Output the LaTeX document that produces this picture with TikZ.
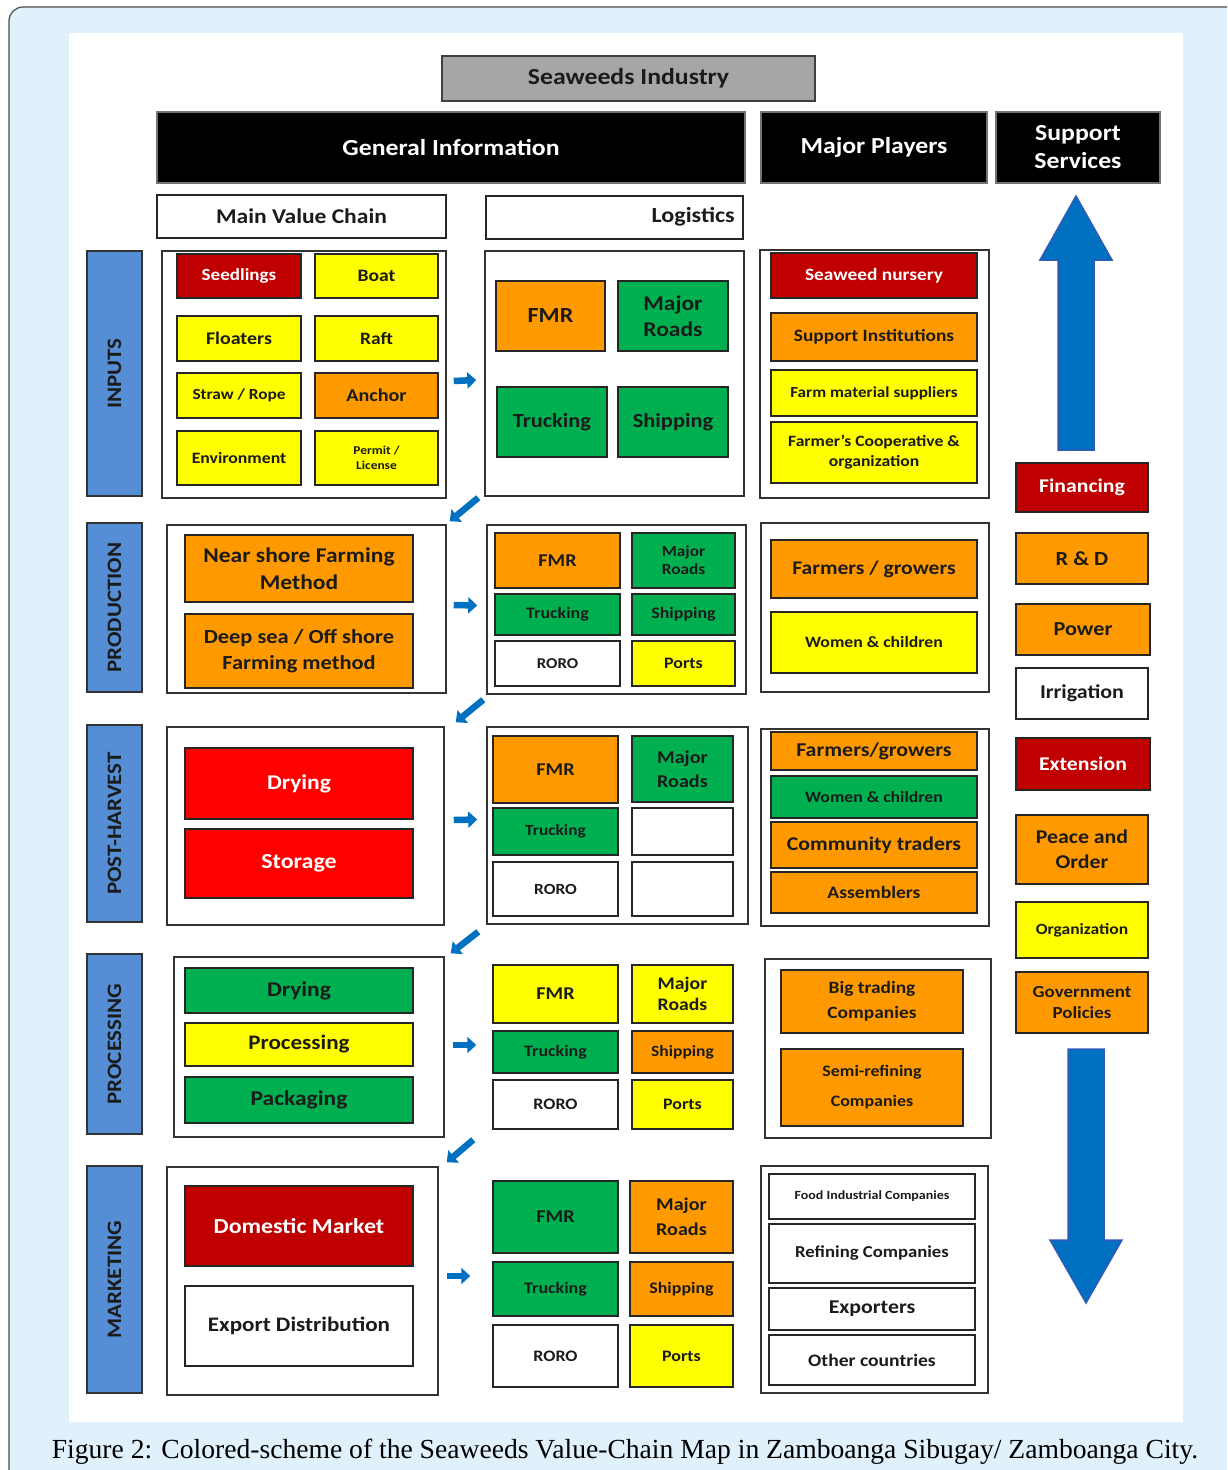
\documentclass[tikz,border=0pt]{standalone}
\usepackage{fontspec}
\setmainfont{Carlito}[FakeStretch=1.12]
\newfontfamily\capfont{Liberation Serif}
\usetikzlibrary{calc,arrows.meta}
\definecolor{bgblue}{HTML}{E0F1FB}
\definecolor{hgray}{HTML}{A6A6A6}
\definecolor{dred}{HTML}{C00000}
\definecolor{bred}{HTML}{FF0000}
\definecolor{orng}{HTML}{FF9900}
\definecolor{yell}{HTML}{FFFF00}
\definecolor{grn}{HTML}{00B050}
\definecolor{stblue}{HTML}{558ED5}
\definecolor{arrblue}{HTML}{0070C0}
\definecolor{arredge}{HTML}{2F5BB7}
\definecolor{txt}{HTML}{1B1B1B}
\newcommand\fs[2]{\fontsize{#1}{#2}\selectfont}
% box from corner (x1,y1) to (x2,y2): \B{style}{x1}{y1}{x2}{y2}{name}{text}
\newcommand\B[7]{\node[#1, minimum width=#4-#2, minimum height=#5-#3] (#6) at ({(#2+#4)/2},{(#3+#5)/2}) {#7};}
\tikzset{
  cell/.style={draw=black!85, line width=1.5, inner sep=0pt, align=center, text=txt, font=\bfseries\fs{17}{20}},
  hdr/.style={cell, fill=black, draw=black!55, text=white, font=\bfseries\fs{23}{27}},
  cont/.style={draw=black!80, line width=1.5, fill=white, inner sep=0pt},
  stage/.style={draw=black!80, line width=1.5, fill=stblue, inner sep=0pt, text=txt, font=\bfseries\fs{20.5}{23}},
  og/.style={cell, fill=orng},
  yl/.style={cell, fill=yell},
  gr/.style={cell, fill=grn},
  rd/.style={cell, fill=dred, text=white},
  br/.style={cell, fill=bred, text=white},
  wh/.style={cell, fill=white},
  rarr/.style={line width=6.5, draw=arrblue, -{Triangle[length=9pt,width=16pt]}},
  bigarr/.style={fill=arrblue, draw=arredge, line width=1.5},
}
\begin{document}
\begin{tikzpicture}[x=1pt,y=-1pt]
\useasboundingbox (0,0) rectangle (1227,1470);
\clip (0,0) rectangle (1227,1470);
\fill[white] (0,0) rectangle (1227,1470);
\draw[fill=bgblue, draw=black!70, line width=1.2, rounded corners=14] (9,7) rectangle (1262,1500);
\fill[white] (69,33) rectangle (1183,1422);

% headers
\B{cell, fill=hgray, draw=black!75, font=\bfseries\fs{23}{26}}{442}{56}{815}{101}{ind}{Seaweeds Industry}
\B{hdr}{157}{112}{745}{183}{gen}{General Information}
\B{hdr}{761}{112}{987}{183}{mp}{Major Players}
\B{hdr, font=\bfseries\fs{23}{28}}{996}{112}{1160}{183}{ss}{Support\\Services}
\B{wh, font=\bfseries\fs{21}{24}}{157}{195}{446}{238}{mvc}{Main Value Chain}
\node[wh, anchor=north west, minimum height=43, text width=241, inner xsep=8pt, align=right, font=\bfseries\fs{21.5}{24}] (logi) at (485,195) {Logistics};

% stage labels
\B{stage}{87}{251}{142}{496}{s1}{\rotatebox{90}{INPUTS}}
\B{stage}{87}{523}{142}{692}{s2}{\rotatebox{90}{PRODUCTION}}
\B{stage}{87}{725}{142}{922}{s3}{\rotatebox{90}{POST-HARVEST}}
\B{stage}{87}{954}{142}{1134}{s4}{\rotatebox{90}{PROCESSING}}
\B{stage}{87}{1166}{142}{1393}{s5}{\rotatebox{90}{MARKETING}}

% ===== Row 1: inputs
\B{cont}{162}{251}{446}{498}{in1}{}
\B{rd}{177}{254}{301}{298}{seed}{Seedlings}
\B{yl, font=\bfseries\fs{17.5}{20}}{315}{254}{438}{298}{boat}{Boat}
\B{yl, font=\bfseries\fs{17.8}{20}}{177}{316}{301}{361}{float}{Floaters}
\B{yl, font=\bfseries\fs{17.4}{20}}{315}{316}{438}{361}{raft}{Raft}
\B{yl, font=\bfseries\fs{15.4}{18}}{177}{373}{301}{418}{straw}{Straw / Rope}
\B{og, font=\bfseries\fs{18}{20}}{315}{373}{438}{418}{anch}{Anchor}
\B{yl, font=\bfseries\fs{15.8}{18}}{177}{431}{301}{485}{env}{Environment}
\B{yl, font=\bfseries\fs{12}{15}}{315}{431}{438}{485}{perm}{Permit /\\License}

\B{cont}{485}{251}{744}{496}{lg1}{}
\B{og, font=\bfseries\fs{21.5}{24}}{496}{281}{605}{351}{fmr1}{FMR}
\B{gr, font=\bfseries\fs{21}{26}}{618}{281}{728}{351}{mr1}{Major\\Roads}
\B{gr, font=\bfseries\fs{20}{24}}{497}{387}{607}{457}{tr1}{Trucking}
\B{gr, font=\bfseries\fs{20}{24}}{618}{387}{728}{457}{sh1}{Shipping}

\B{cont}{760}{250}{989}{498}{mp1}{}
\B{rd, font=\bfseries\fs{17.3}{20}}{771}{253}{977}{298}{nurs}{Seaweed nursery}
\B{og, font=\bfseries\fs{17.3}{20}}{771}{313}{977}{361}{supi}{Support Institutions}
\B{yl, font=\bfseries\fs{15.3}{18}}{771}{370}{977}{416}{farm}{Farm material suppliers}
\B{yl, font=\bfseries\fs{15.7}{20}}{771}{422}{977}{483}{coop}{Farmer's Cooperative \&\\organization}

% ===== Row 2: production
\B{cont}{167}{525}{446}{693}{in2}{}
\B{og, font=\bfseries\fs{21}{27}}{185}{535}{413}{602}{near}{Near shore Farming\\Method}
\B{og, font=\bfseries\fs{20}{26}}{185}{614}{413}{688}{deep}{Deep sea / Off shore\\Farming method}

\B{cont}{487}{525}{746}{694}{lg2}{}
\B{og, font=\bfseries\fs{18}{20}}{495}{533}{620}{588}{fmr2}{FMR}
\B{gr, font=\bfseries\fs{15.4}{18}}{632}{533}{735}{588}{mr2}{Major\\Roads}
\B{gr, font=\bfseries\fs{16}{18}}{495}{594}{620}{635}{tr2}{Trucking}
\B{gr, font=\bfseries\fs{16}{18}}{632}{594}{735}{635}{sh2}{Shipping}
\B{wh, font=\bfseries\fs{15}{18}}{495}{641}{620}{686}{ro2}{RORO}
\B{yl, font=\bfseries\fs{16}{18}}{632}{641}{735}{686}{po2}{Ports}

\B{cont}{761}{523}{989}{692}{mp2}{}
\B{og, font=\bfseries\fs{19.3}{22}}{771}{540}{977}{598}{fg2}{Farmers / growers}
\B{yl, font=\bfseries\fs{15.8}{18}}{771}{612}{977}{673}{wc2}{Women \& children}

% ===== Row 3: post-harvest
\B{cont}{167}{727}{444}{925}{in3}{}
\B{br, font=\bfseries\fs{21}{24}}{185}{748}{413}{819}{dry3}{Drying}
\B{br, font=\bfseries\fs{21.4}{24}}{185}{829}{413}{898}{sto3}{Storage}

\B{cont}{487}{727}{748}{924}{lg3}{}
\B{og, font=\bfseries\fs{18}{20}}{493}{736}{618}{803}{fmr3}{FMR}
\B{gr, font=\bfseries\fs{18}{24}}{632}{736}{733}{802}{mr3}{Major\\Roads}
\B{gr, font=\bfseries\fs{15.5}{18}}{493}{808}{618}{855}{tr3}{Trucking}
\B{wh}{632}{808}{733}{855}{e31}{}
\B{wh, font=\bfseries\fs{15.5}{18}}{493}{862}{618}{916}{ro3}{RORO}
\B{wh}{632}{862}{733}{916}{e32}{}

\B{cont}{761}{729}{989}{926}{mp3}{}
\B{og, font=\bfseries\fs{19.6}{22}}{771}{732}{977}{770}{fg3}{Farmers/growers}
\B{gr, font=\bfseries\fs{15.8}{18}}{771}{776}{977}{818}{wc3}{Women \& children}
\B{og, font=\bfseries\fs{19.4}{22}}{771}{822}{977}{868}{ct3}{Community traders}
\B{og, font=\bfseries\fs{17.5}{20}}{771}{872}{977}{913}{as3}{Assemblers}

% ===== Row 4: processing
\B{cont}{174}{957}{444}{1137}{in4}{}
\B{gr, font=\bfseries\fs{21}{24}}{185}{968}{413}{1013}{dry4}{Drying}
\B{yl, font=\bfseries\fs{20.6}{24}}{185}{1023}{413}{1066}{proc4}{Processing}
\B{gr, font=\bfseries\fs{21}{24}}{185}{1077}{413}{1123}{pack4}{Packaging}

\B{yl, font=\bfseries\fs{18}{20}}{493}{965}{618}{1023}{fmr4}{FMR}
\B{yl, font=\bfseries\fs{17.6}{21}}{632}{965}{733}{1023}{mr4}{Major\\Roads}
\B{gr, font=\bfseries\fs{16}{18}}{493}{1031}{618}{1073}{tr4}{Trucking}
\B{og, font=\bfseries\fs{15.6}{18}}{632}{1031}{733}{1073}{sh4}{Shipping}
\B{wh, font=\bfseries\fs{16}{18}}{493}{1080}{618}{1129}{ro4}{RORO}
\B{yl, font=\bfseries\fs{16}{18}}{632}{1080}{733}{1129}{po4}{Ports}

\B{cont}{765}{959}{991}{1138}{mp4}{}
\B{og, font=\bfseries\fs{17.3}{25}}{781}{970}{963}{1033}{big4}{Big trading\\Companies}
\B{og, font=\bfseries\fs{16}{30}}{781}{1049}{963}{1126}{semi4}{Semi-refining\\Companies}

% ===== Row 5: marketing
\B{cont}{167}{1167}{438}{1395}{in5}{}
\B{rd, font=\bfseries\fs{21.4}{24}}{185}{1186}{413}{1266}{dom5}{Domestic Market}
\B{wh, font=\bfseries\fs{20.6}{24}}{185}{1286}{413}{1366}{exp5}{Export Distribution}

\B{gr, font=\bfseries\fs{18}{20}}{493}{1181}{618}{1253}{fmr5}{FMR}
\B{og, font=\bfseries\fs{18}{25}}{630}{1181}{733}{1253}{mr5}{Major\\Roads}
\B{gr, font=\bfseries\fs{16}{18}}{493}{1262}{618}{1316}{tr5}{Trucking}
\B{og, font=\bfseries\fs{16}{18}}{630}{1262}{733}{1316}{sh5}{Shipping}
\B{wh, font=\bfseries\fs{16}{18}}{493}{1325}{618}{1387}{ro5}{RORO}
\B{yl, font=\bfseries\fs{16}{18}}{630}{1325}{733}{1387}{po5}{Ports}

\B{cont}{761}{1166}{988}{1393}{mp5}{}
\B{wh, font=\bfseries\fs{12.5}{14}}{769}{1174}{975}{1219}{food5}{Food Industrial Companies}
\B{wh, font=\bfseries\fs{16.7}{20}}{769}{1224}{975}{1283}{ref5}{Refining Companies}
\B{wh, font=\bfseries\fs{19.5}{22}}{769}{1288}{975}{1330}{ex5}{Exporters}
\B{wh, font=\bfseries\fs{17.5}{20}}{769}{1335}{975}{1385}{oc5}{Other countries}

% ===== support services
\B{rd, font=\bfseries\fs{19.4}{22}}{1016}{463}{1148}{512}{fin}{Financing}
\B{og, font=\bfseries\fs{20}{22}}{1016}{533}{1148}{584}{rnd}{R \& D}
\B{og, font=\bfseries\fs{19.8}{22}}{1016}{604}{1150}{655}{pow}{Power}
\B{wh, font=\bfseries\fs{19.6}{22}}{1016}{668}{1148}{719}{irr}{Irrigation}
\B{rd, font=\bfseries\fs{19.4}{22}}{1016}{738}{1150}{790}{ext}{Extension}
\B{og, font=\bfseries\fs{19.5}{25}}{1016}{815}{1148}{884}{peace}{Peace and\\Order}
\B{yl, font=\bfseries\fs{15.6}{18}}{1016}{902}{1148}{958}{org}{Organization}
\B{og, font=\bfseries\fs{16.9}{21}}{1016}{972}{1148}{1033}{gov}{Government\\Policies}

% big arrows
\draw[bigarr] (1058,450) -- (1058,260) -- (1040,260) -- (1076,196) -- (1112,260) -- (1094,260) -- (1094,450) -- cycle;
\draw[bigarr] (1068,1049) -- (1068,1240) -- (1050,1240) -- (1086,1303) -- (1122,1240) -- (1104,1240) -- (1104,1049) -- cycle;

% small arrows
\draw[rarr] ($(in1.east)+(7,6.5)$) -- ($(lg1.west)+(-8,6.5)$);
\draw[rarr] ($(in2.east)+(7,-4)$) -- ($(lg2.west)+(-9,-4)$);
\draw[rarr] ($(in3.east)+(9,-6)$) -- ($(lg3.west)+(-9,-6)$);
\draw[rarr] ($(in4.east)+(8,-2)$) -- ($(tr4.west)+(-16,-7)$);
\draw[rarr] ($(in5.east)+(8,-5)$) -- ($(tr5.west)+(-22,-13)$);
\draw[rarr] ($(lg1.south west)+(-6,1)$) -- ($(in2.north east)+(3,-3)$);
\draw[rarr] ($(lg2.south west)+(-3,5)$) -- ($(in3.north east)+(11,-4)$);
\draw[rarr] ($(lg3.south west)+(-8,7)$) -- ($(in4.north east)+(6,-3)$);
\draw[rarr] ($(ro4.south west)+(-19,10)$) -- ($(in5.north east)+(8,-4)$);

% caption
\node[font=\capfont\fs{27.6}{30}, text=black] (cap) at (625,1452) {Figure 2: Colored-scheme of the Seaweeds Value-Chain Map in Zamboanga Sibugay/ Zamboanga City.};
\end{tikzpicture}
\end{document}
